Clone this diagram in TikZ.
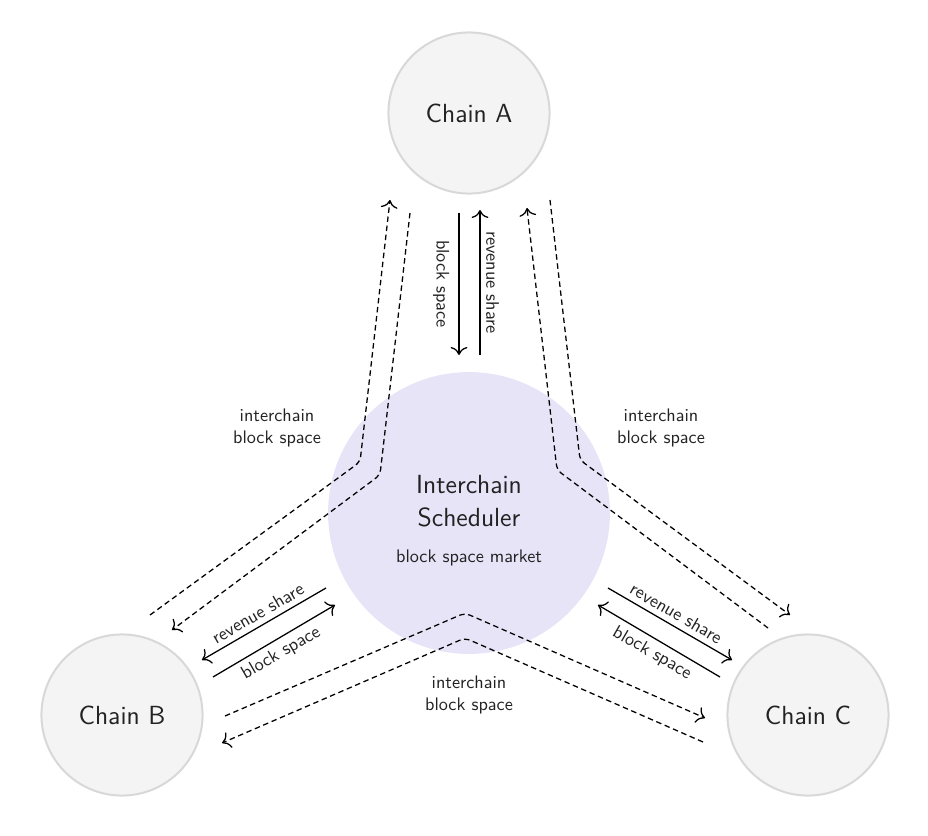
\documentclass[tikz,border=0pt]{standalone}
\usetikzlibrary{positioning, arrows.meta}
\definecolor{chainfill}{HTML}{F4F4F4}
\definecolor{chainedge}{HTML}{D8D8D8}
\definecolor{schedfill}{HTML}{E8E4F8}
\definecolor{inktext}{HTML}{222222}

\begin{document}
\begin{tikzpicture}[
    x=0.0193cm, y=-0.0193cm,
    font=\sffamily,
    % Styles
    chainnode/.style={circle, draw=chainedge, line width=1.1pt, fill=chainfill, minimum size=3.11cm, font=\Large\sffamily, text=inktext},
    schednode/.style={circle, fill=schedfill, minimum size=5.44cm},
    schedtext/.style={align=center, font=\Large\sffamily, text=inktext},
    flowlabel/.style={font=\sffamily, text=inktext, inner sep=3pt},
    icbox/.style={font=\sffamily, text=inktext, align=center},
    flow/.style={-{To[scale=1.4]}, line width=0.7pt},
    icflow/.style={-{To[scale=1.4]}, line width=0.7pt, dash pattern=on 3pt off 2pt, rounded corners=3pt}
]
\useasboundingbox (0,0) rectangle (928,836);

% ==================== NODES ====================
\node[schednode] (sched) at (469,513) {};
\node[schedtext] (schedlabel) at (469,521) {Interchain\\Scheduler\\[2pt]{\normalsize block space market}};
\node[chainnode] (chainA) at (469,113) {Chain A};
\node[chainnode] (chainB) at (122,715) {Chain B};
\node[chainnode] (chainC) at (808,715) {Chain C};

% ==================== DIRECT FLOWS ====================
\coordinate (aDownS) at (459,213);
\coordinate (aDownE) at (459,355);
\coordinate (aUpS) at (480,355);
\coordinate (aUpE) at (480,210);
\draw[flow] (aDownS) -- node[flowlabel, rotate=-90, anchor=north, inner sep=5pt] {block space} (aDownE);
\draw[flow] (aUpS) -- node[flowlabel, rotate=-90, anchor=south] {revenue share} (aUpE);

\coordinate (bRevS) at (326,588);
\coordinate (bRevE) at (202,660);
\coordinate (bBlkS) at (213,677);
\coordinate (bBlkE) at (335,605);
\draw[flow] (bRevS) -- node[flowlabel, rotate=30, anchor=south] {revenue share} (bRevE);
\draw[flow] (bBlkS) -- node[flowlabel, rotate=30, anchor=north] {block space} (bBlkE);

\coordinate (cRevS) at (608,588);
\coordinate (cRevE) at (732,660);
\coordinate (cBlkS) at (720,677);
\coordinate (cBlkE) at (598,605);
\draw[flow] (cRevS) -- node[flowlabel, rotate=-30, anchor=south] {revenue share} (cRevE);
\draw[flow] (cBlkS) -- node[flowlabel, rotate=-30, anchor=north] {block space} (cBlkE);

% ==================== INTERCHAIN FLOWS ====================
\coordinate (abOutS) at (150,615);
\coordinate (abOutK) at (360,462);
\coordinate (abOutE) at (390,200);
\coordinate (abInS) at (410,213);
\coordinate (abInK) at (380,475);
\coordinate (abInE) at (172,630);
\draw[icflow] (abOutS) -- (abOutK) -- (abOutE);
\draw[icflow] (abInS) -- (abInK) -- (abInE);

\coordinate (acOutS) at (550,200);
\coordinate (acOutK) at (580,460);
\coordinate (acOutE) at (790,615);
\coordinate (acInS) at (768,628);
\coordinate (acInK) at (557,470);
\coordinate (acInE) at (527,208);
\draw[icflow] (acOutS) -- (acOutK) -- (acOutE);
\draw[icflow] (acInS) -- (acInK) -- (acInE);

\coordinate (bcUpS) at (225,716);
\coordinate (bcUpK) at (465,613);
\coordinate (bcUpE) at (705,718);
\coordinate (bcLoS) at (703,742);
\coordinate (bcLoK) at (465,638);
\coordinate (bcLoE) at (222,743);
\draw[icflow] (bcUpS) -- (bcUpK) -- (bcUpE);
\draw[icflow] (bcLoS) -- (bcLoK) -- (bcLoE);

\node[icbox] (icAB) at (277,428) {interchain\\block space};
\node[icbox] (icAC) at (661,428) {interchain\\block space};
\node[icbox] (icBC) at (469,695) {interchain\\block space};

\end{tikzpicture}
\end{document}
